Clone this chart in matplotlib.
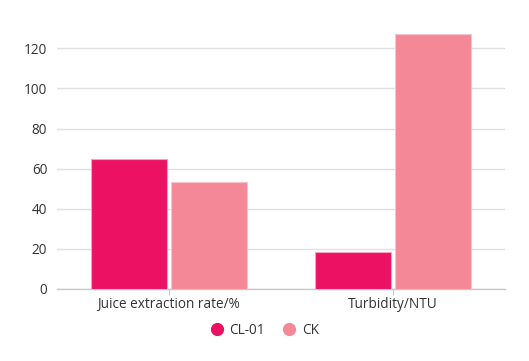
import matplotlib.pyplot as plt
import numpy as np
from matplotlib.lines import Line2D

categories = ['Juice extraction rate/%', 'Turbidity/NTU']
series_names = ['CL-01', 'CK']
cl01_values = [65, 18.3]
ck_values = [53.5, 127]
colors = ['#ED1164', '#F48896']

plt.rcParams['font.family'] = ['Open Sans', 'DejaVu Sans']

fig = plt.figure(figsize=(5.29, 3.61), dpi=100)
ax = fig.add_axes([57 / 529, 72 / 361, 448 / 529, 254.7 / 361])

x = np.arange(len(categories))
w = 0.34
gap = 0.007
ax.bar(x - w / 2 - gap, cl01_values, w, color=colors[0], edgecolor='#F7A0BE',
       linewidth=0.8, zorder=3)
ax.bar(x + w / 2 + gap, ck_values, w, color=colors[1], edgecolor='#F9C4CB',
       linewidth=0.8, zorder=3)

ax.set_xlim(-0.5, 1.5)
ax.set_ylim(0, 127)
ax.set_yticks([0, 20, 40, 60, 80, 100, 120])
ax.yaxis.grid(True, color='#E0E0E0', linewidth=1, zorder=0)
ax.set_axisbelow(True)

for s in ['top', 'right', 'left']:
    ax.spines[s].set_visible(False)
ax.spines['bottom'].set_color('#C8C8C8')
ax.spines['bottom'].set_linewidth(1)

ax.set_xticks(x)
ax.set_xticklabels(categories)
ax.tick_params(axis='y', length=0, pad=7, labelsize=9.8, labelcolor='#333333')
ax.tick_params(axis='x', length=4, color='#C8C8C8', pad=2, labelsize=9.8,
               labelcolor='#333333')

handles = [Line2D([0], [0], marker='o', linestyle='', markersize=8.5,
                  markerfacecolor=c, markeredgecolor=c) for c in colors]
fig.legend(handles, series_names, loc='center', bbox_to_anchor=(0.5, 31 / 361),
           ncol=2, frameon=False, fontsize=9.8, handlelength=1.0,
           handletextpad=0.4, columnspacing=1.3, labelcolor='#333333')

fig.savefig('out.png', dpi=100)
